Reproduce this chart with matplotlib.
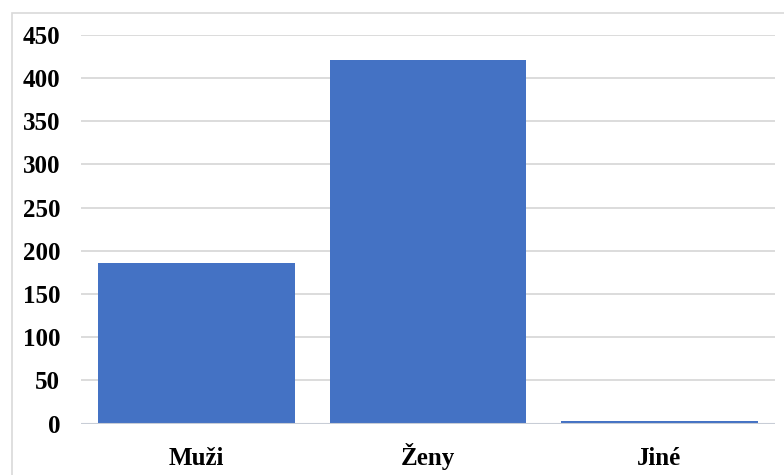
import matplotlib.pyplot as plt
from matplotlib.patches import Rectangle

# Gender counts
categories = ["Muži", "Ženy", "Jiné"]
counts = [186, 421, 3]
y_ticks = [0, 50, 100, 150, 200, 250, 300, 350, 400, 450]

plt.rcParams['font.family'] = ['Liberation Serif', 'DejaVu Serif']

fig = plt.figure(figsize=(7.84, 4.75), dpi=100)
ax = fig.add_axes([81 / 784, 51.3 / 475, 694 / 784, 389 / 475])

# Light frame around the chart area
fig.patches.append(Rectangle((12 / 784, -0.1), 1.2, (475 - 13) / 475 + 0.1,
                             transform=fig.transFigure, fill=False,
                             edgecolor='#d9d9d9', linewidth=1.2))

x = range(len(categories))
ax.bar(x, counts, width=0.85, color='#4472C4', zorder=2)

ax.set_xlim(-0.5, 2.5)
ax.set_ylim(0, 450)
ax.set_yticks(y_ticks)
ax.set_xticks(list(x))
ax.set_xticklabels(categories)

for lab in ax.get_xticklabels() + ax.get_yticklabels():
    lab.set_fontsize(18)
    lab.set_fontweight('bold')
# keep category names on a common baseline
for lab in ax.get_xticklabels():
    lab.set_verticalalignment('baseline')

ax.grid(axis='y', color='#d9d9d9', linewidth=1.3, zorder=1)
ax.axhline(0, color='#c8cdd6', linewidth=1.5, zorder=3)
for side in ['top', 'right', 'left', 'bottom']:
    ax.spines[side].set_visible(False)
ax.tick_params(axis='both', length=0)
ax.tick_params(axis='y', pad=15)
ax.tick_params(axis='x', pad=30)

fig.savefig("out.png", dpi=100)
